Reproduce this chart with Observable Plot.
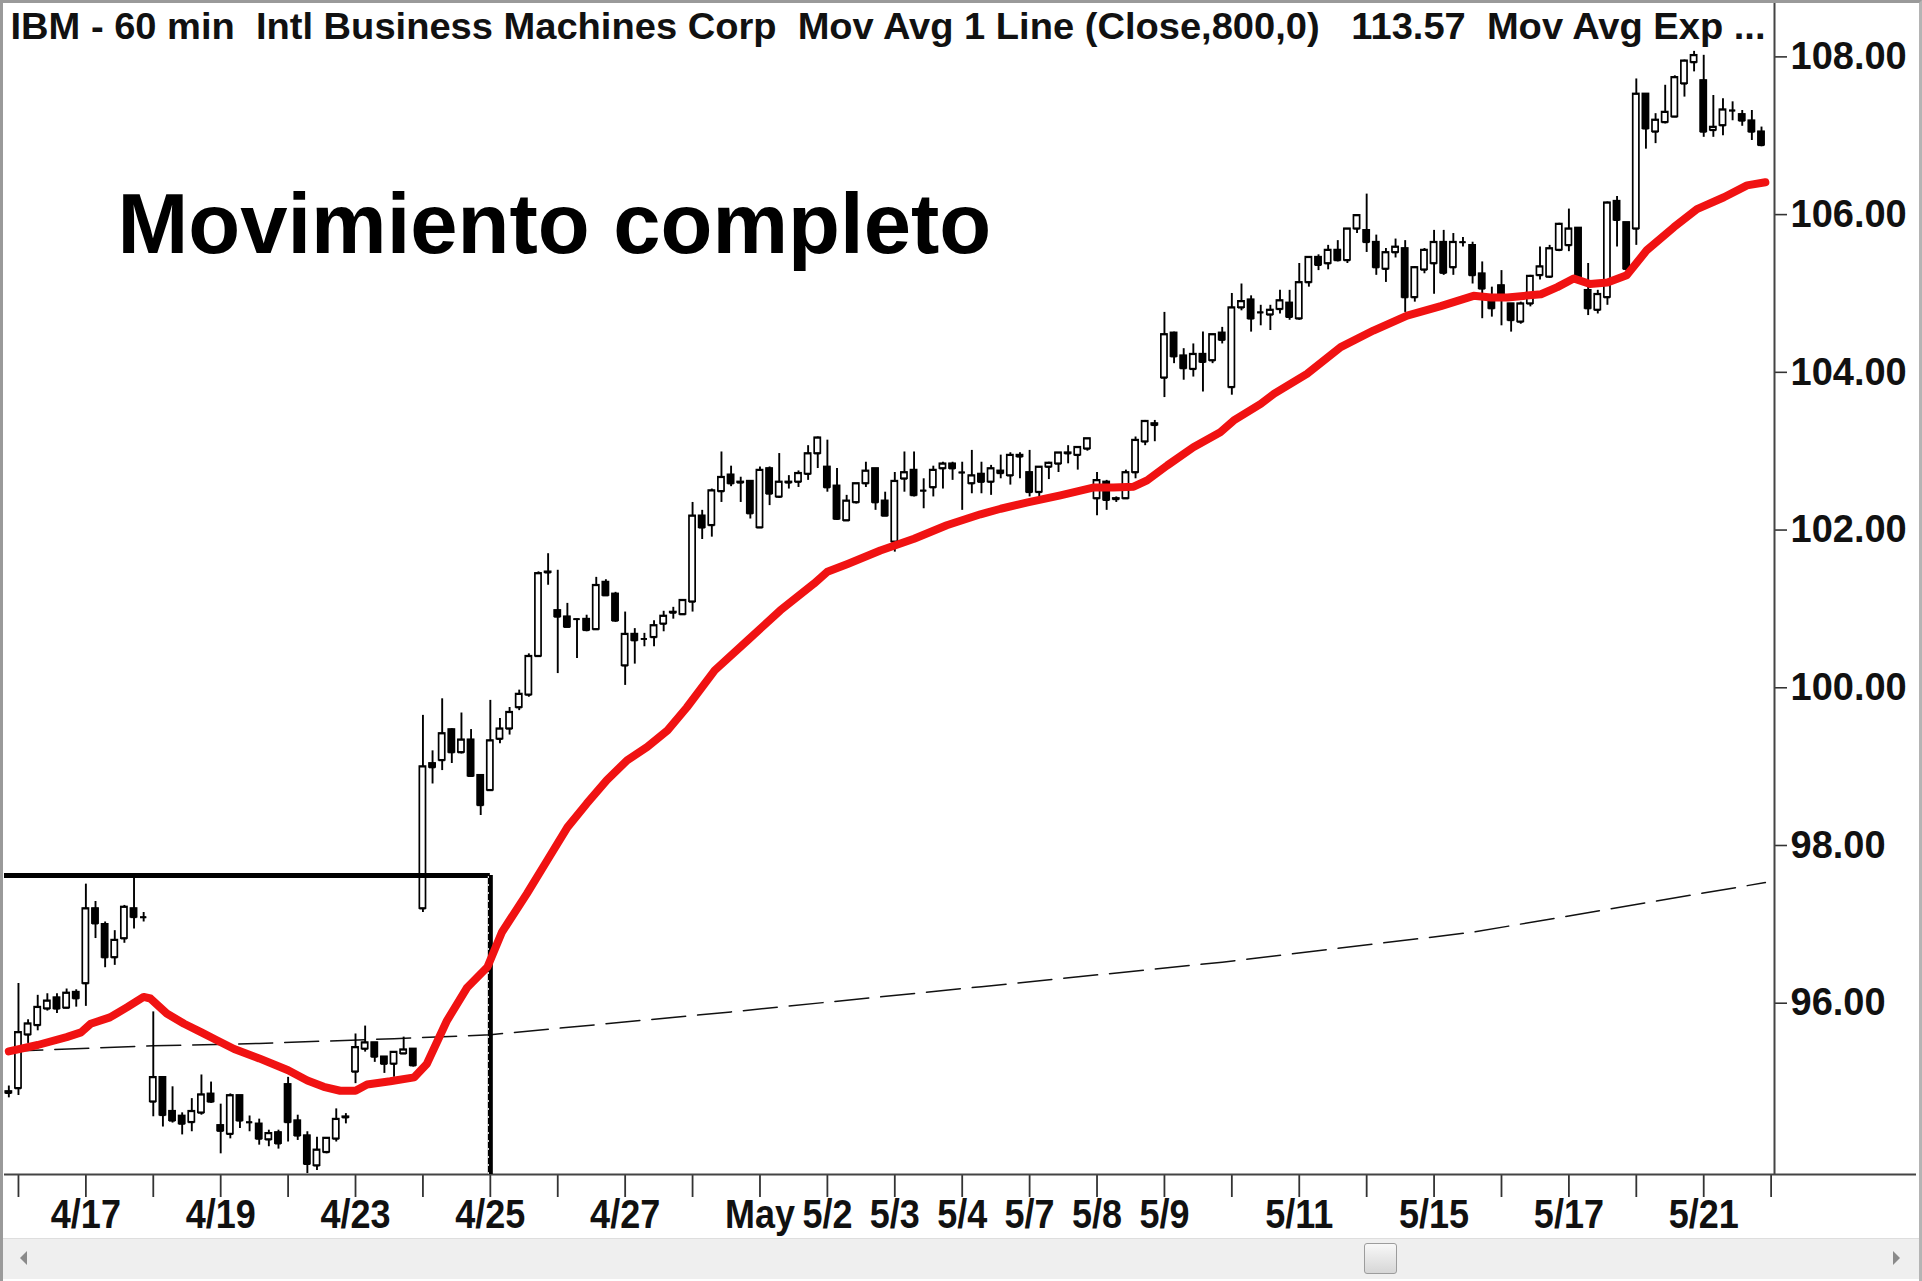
<!DOCTYPE html>
<html>
<head>
<meta charset="utf-8">
<script src="https://cdn.jsdelivr.net/npm/d3@7"></script>
<script src="https://cdn.jsdelivr.net/npm/@observablehq/plot@0.6"></script>
<style>
  html, body { margin: 0; padding: 0; background: #fff; }
  #wrap { position: relative; width: 1922px; height: 1281px; overflow: hidden; background: #fff; }
  #chart { position: absolute; left: 0; top: 0; }
  #frame { position: absolute; left: 0; top: 0; width: 1922px; height: 1281px; box-sizing: border-box;
           border-top: 3px solid #9a9a9a; border-left: 3px solid #9a9a9a; border-right: 3px solid #b4b4b4; pointer-events: none; }
  #scroll { position: absolute; left: 3px; top: 1238px; width: 1916px; height: 40px; background: #efefef; border-top: 1px solid #dedede; }
  #scroll .arr { position: absolute; top: 12px; width: 0; height: 0; border-top: 7px solid transparent; border-bottom: 7px solid transparent; }
  #scroll .l { left: 17px; border-right: 7px solid #8a8a8a; }
  #scroll .r { left: 1890px; border-left: 7px solid #8a8a8a; }
  #scroll .thumb { position: absolute; left: 1361px; top: 4px; width: 33px; height: 31px; box-sizing: border-box;
                   border: 1px solid #9c9c9c; border-radius: 3px; background: linear-gradient(#f8f8f8, #d6d6d6); }
</style>
</head>
<body>
<div id="wrap">
  <div id="chart"></div>
  <div id="scroll"><div class="arr l"></div><div class="arr r"></div><div class="thumb"></div></div>
  <div id="frame"></div>
</div>
<script>
// ---------------- data (60-min bars, index 0 = last bar of 4/13) ----------------
const opens = [
  94.88, 94.92, 95.60, 95.72, 95.93, 96.07, 95.94, 96.14,
  96.25, 97.20, 97.00, 96.58, 96.82, 97.20, 97.09,
  94.75, 95.06, 94.63, 94.57, 94.49, 94.61, 94.85,
  94.45, 94.34, 94.83, 94.49, 94.47, 94.27, 94.36,
  94.97, 94.51, 94.32, 93.94, 94.11, 94.28, 94.55,
  95.13, 95.42, 95.50, 95.32, 95.23, 95.36, 95.42,
  97.20, 99.04, 99.08, 99.47, 99.18, 99.34, 98.89,
  98.70, 99.35, 99.48, 99.75, 99.91, 100.40, 101.46,
  100.98, 100.90, 100.87, 100.87, 100.74, 101.34, 101.19,
  100.28, 100.68, 100.62, 100.64, 100.81, 100.95, 100.93,
  101.09, 102.18, 102.06, 102.49, 102.70, 102.61, 102.62,
  102.03, 102.78, 102.42, 102.60, 102.61, 102.71, 102.97,
  102.80, 102.56, 102.12, 102.35, 102.59, 102.78, 102.37,
  101.85, 102.65, 102.76, 102.50, 102.54, 102.78, 102.84,
  102.73, 102.59, 102.71, 102.61, 102.75, 102.69, 102.95,
  102.73, 102.48, 102.80, 102.84, 102.97, 102.95, 103.03,
  102.40, 102.61, 102.40, 102.40, 102.73, 103.12, 103.35,
  103.93, 104.50, 104.21, 104.04, 104.23, 104.15, 104.50,
  103.81, 104.82, 104.92, 104.76, 104.73, 104.80, 104.88,
  104.68, 105.14, 105.46, 105.38, 105.55, 105.42, 105.82,
  105.80, 105.65, 105.31, 105.52, 105.57, 104.95, 105.30,
  105.38, 105.65, 105.33, 105.65, 105.61, 105.25, 104.89,
  105.10, 104.87, 104.64, 104.87, 105.23, 105.21, 105.55,
  105.61, 105.83, 105.04, 104.79, 104.95, 106.17, 105.90,
  105.82, 107.53, 107.05, 107.17, 107.24, 107.66, 107.93,
  107.70, 107.07, 107.13, 107.32, 107.27, 107.19, 107.05
];
const highs = [
  94.95, 96.25, 95.79, 96.10, 96.12, 96.12, 96.18, 96.17,
  97.51, 97.29, 97.03, 96.92, 97.24, 97.60, 97.15,
  95.89, 95.06, 94.94, 94.61, 94.79, 95.09, 95.00,
  94.72, 94.85, 94.83, 94.57, 94.53, 94.39, 94.39,
  95.06, 94.58, 94.37, 94.30, 94.29, 94.66, 94.60,
  95.61, 95.71, 95.50, 95.32, 95.38, 95.57, 95.42,
  99.65, 99.20, 99.86, 99.48, 99.68, 99.47, 98.89,
  99.84, 99.61, 99.75, 99.97, 100.43, 101.47, 101.70,
  101.49, 101.07, 100.87, 100.92, 101.40, 101.37, 101.21,
  100.96, 100.75, 100.69, 100.85, 100.97, 101.02, 101.11,
  102.35, 102.25, 102.52, 102.99, 102.81, 102.67, 102.62,
  102.80, 102.80, 102.97, 102.69, 102.75, 103.07, 103.18,
  103.14, 102.78, 102.44, 102.59, 102.86, 102.78, 102.48,
  102.73, 102.99, 102.99, 102.65, 102.81, 102.86, 102.86,
  102.86, 103.01, 102.86, 102.82, 102.95, 102.98, 102.98,
  103.01, 102.80, 102.86, 102.98, 103.07, 103.05, 103.16,
  102.73, 102.63, 102.42, 102.76, 103.18, 103.39, 103.39,
  104.76, 104.51, 104.30, 104.36, 104.51, 104.48, 104.57,
  105.00, 105.12, 104.97, 104.85, 104.85, 105.04, 105.04,
  105.38, 105.46, 105.49, 105.61, 105.67, 105.82, 105.99,
  106.26, 105.74, 105.57, 105.69, 105.67, 105.34, 105.57,
  105.80, 105.80, 105.76, 105.71, 105.65, 105.40, 105.08,
  105.29, 104.87, 104.89, 105.23, 105.59, 105.61, 105.89,
  106.07, 105.83, 105.38, 105.04, 106.16, 106.23, 105.90,
  107.72, 107.53, 107.28, 107.64, 107.76, 107.96, 108.07,
  108.02, 107.51, 107.47, 107.43, 107.32, 107.32, 107.11
];
const lows = [
  94.80, 94.83, 95.49, 95.65, 95.90, 95.87, 95.93, 95.95,
  95.96, 96.82, 96.45, 96.48, 96.76, 96.94, 97.03,
  94.56, 94.43, 94.48, 94.33, 94.37, 94.58, 94.73,
  94.09, 94.28, 94.41, 94.37, 94.20, 94.18, 94.15,
  94.24, 94.26, 93.84, 93.88, 94.09, 94.24, 94.47,
  94.98, 95.38, 95.25, 95.11, 95.06, 95.35, 95.19,
  97.15, 98.78, 98.95, 99.04, 99.16, 98.87, 98.38,
  98.70, 99.29, 99.40, 99.71, 99.88, 100.39, 101.30,
  100.18, 100.77, 100.37, 100.71, 100.73, 101.17, 100.83,
  100.03, 100.30, 100.52, 100.52, 100.71, 100.87, 100.92,
  100.96, 101.88, 101.91, 102.35, 102.55, 102.35, 102.14,
  102.03, 102.31, 102.40, 102.52, 102.54, 102.63, 102.78,
  102.48, 102.12, 102.12, 102.33, 102.54, 102.25, 102.18,
  101.72, 102.48, 102.42, 102.27, 102.42, 102.52, 102.63,
  102.25, 102.46, 102.46, 102.44, 102.65, 102.57, 102.65,
  102.42, 102.42, 102.64, 102.73, 102.84, 102.76, 103.00,
  102.18, 102.25, 102.35, 102.40, 102.65, 103.07, 103.12,
  103.68, 104.11, 103.90, 103.94, 103.75, 104.11, 104.36,
  103.71, 104.78, 104.51, 104.59, 104.53, 104.74, 104.66,
  104.66, 105.08, 105.29, 105.30, 105.40, 105.38, 105.76,
  105.52, 105.23, 105.14, 105.45, 104.76, 104.89, 105.25,
  104.99, 105.23, 105.23, 105.59, 105.12, 104.68, 104.70,
  104.59, 104.51, 104.61, 104.83, 105.17, 105.19, 105.53,
  105.53, 105.17, 104.72, 104.74, 104.85, 105.59, 105.27,
  105.61, 106.83, 106.90, 107.15, 107.23, 107.49, 107.81,
  106.98, 106.98, 107.00, 107.19, 107.12, 106.94, 106.86
];
const closes = [
  94.86, 95.63, 95.74, 95.95, 96.03, 95.93, 96.13, 96.06,
  97.20, 97.01, 96.58, 96.80, 97.22, 97.09, 97.09,
  95.06, 94.58, 94.51, 94.47, 94.63, 94.84, 94.75,
  94.38, 94.83, 94.51, 94.49, 94.28, 94.35, 94.22,
  94.49, 94.32, 93.96, 94.14, 94.29, 94.53, 94.56,
  95.44, 95.50, 95.32, 95.23, 95.38, 95.41, 95.21,
  99.00, 98.99, 99.42, 99.18, 99.34, 98.88, 98.51,
  99.33, 99.48, 99.69, 99.92, 100.40, 101.45, 101.47,
  100.90, 100.77, 100.87, 100.73, 101.30, 101.17, 100.85,
  100.68, 100.60, 100.62, 100.79, 100.91, 100.96, 101.11,
  102.18, 102.03, 102.50, 102.67, 102.59, 102.60, 102.21,
  102.76, 102.46, 102.61, 102.61, 102.72, 102.97, 103.17,
  102.54, 102.14, 102.37, 102.59, 102.75, 102.35, 102.18,
  102.62, 102.73, 102.44, 102.50, 102.76, 102.84, 102.78,
  102.73, 102.69, 102.61, 102.78, 102.72, 102.95, 102.93,
  102.48, 102.80, 102.85, 102.98, 102.98, 103.05, 103.16,
  102.63, 102.38, 102.39, 102.73, 103.14, 103.38, 103.33,
  104.48, 104.20, 104.05, 104.23, 104.13, 104.48, 104.41,
  104.82, 104.90, 104.68, 104.76, 104.79, 104.91, 104.70,
  105.14, 105.46, 105.36, 105.55, 105.42, 105.82, 105.99,
  105.65, 105.33, 105.52, 105.59, 104.95, 105.33, 105.55,
  105.65, 105.26, 105.65, 105.65, 105.23, 105.06, 104.81,
  104.99, 104.66, 104.87, 105.22, 105.34, 105.57, 105.88,
  105.82, 105.19, 104.81, 104.99, 106.15, 105.93, 105.31,
  107.53, 107.09, 107.20, 107.30, 107.74, 107.95, 108.02,
  107.05, 107.11, 107.33, 107.32, 107.19, 107.05, 106.88
];

// trading days: first bar of each day, 7 hourly bars per day
const dayLabels = ["", "4/17", "", "4/19", "", "4/23", "", "4/25", "", "4/27", "", "May", "5/2", "5/3", "5/4",
                   "5/7", "5/8", "5/9", "", "5/11", "", "5/15", "", "5/17", "", "5/21", ""];
const barsPerDay = 7;
const firstDayBar = 1;

// exponential moving average (red line)
const emaBar = [0, 3, 6, 7.5, 8.5, 10.5, 12.3, 14, 14.7, 16.4, 18.2, 20, 21.6, 23.4, 26, 29, 31, 32.7, 34.4, 36,
                37.2, 39.6, 42.1, 43.4, 45.5, 47.6, 49.7, 51.2, 53.8, 55.9, 58, 60, 62.1, 64.2, 66.3, 68.4, 70.4,
                73.3, 76.7, 80.1, 83.6, 85, 87.1, 90.5, 94, 97.4, 100.9, 103, 105.8, 109.2, 112.7, 114.7, 116.8,
                118.2, 120.3, 123, 125.8, 127.2, 130, 131.4, 134.8, 138.3, 141.7, 145.2, 148.7, 152.1, 153.9,
                155.6, 159.1, 160.8, 162.5, 164.2, 166, 168, 170.1, 172.9, 175.3, 178.1, 180.5, 182.4];
const emaVal = [95.39, 95.47, 95.57, 95.63, 95.74, 95.82, 95.95, 96.08, 96.06, 95.87, 95.74, 95.63, 95.53, 95.42,
                95.30, 95.15, 95.02, 94.94, 94.89, 94.89, 94.97, 95.01, 95.06, 95.23, 95.78, 96.20, 96.46, 96.90,
                97.39, 97.81, 98.23, 98.53, 98.83, 99.08, 99.25, 99.46, 99.75, 100.22, 100.60, 100.98, 101.32,
                101.47, 101.57, 101.74, 101.89, 102.06, 102.20, 102.27, 102.35, 102.44, 102.54, 102.54, 102.55,
                102.63, 102.82, 103.05, 103.24, 103.39, 103.60, 103.73, 103.98, 104.32, 104.53, 104.72, 104.84,
                104.97, 104.95, 104.95, 104.99, 105.08, 105.19, 105.12, 105.14, 105.23, 105.55, 105.84, 106.07,
                106.22, 106.37, 106.41];

// 800-bar simple moving average (dashed line)
const smaBar = [0, 15, 26, 40, 50, 75, 101, 126, 152, 182.4];
const smaVal = [95.39, 95.46, 95.49, 95.55, 95.60, 95.89, 96.21, 96.52, 96.90, 97.53];

const yTicks = [96, 98, 100, 102, 104, 106, 108];
const boxTop = 97.62;      // top of the consolidation box
const boxEndBar = 50;      // 4/25 first bar
const headerText = "IBM - 60 min  Intl Business Machines Corp  Mov Avg 1 Line (Close,800,0)   113.57  Mov Avg Exp ...";
const annotation = "Movimiento completo";

// ---------------- build ----------------
const W = 1922, H = 1236;
const mL = 4, mR = 148, mT = 0, mB = 62;
const xDomain = [-0.45, 183.35];
const yDomain = [93.828, 108.715];
const pxPerBar = (W - mL - mR) / (xDomain[1] - xDomain[0]);
const axisLineEnd = xDomain[1] + (W - 6 - (W - mR)) / pxPerBar;

const bars = opens.map((o, i) => ({i, open: o, high: highs[i], low: lows[i], close: closes[i]}));
const up = bars.filter(d => d.close >= d.open);
const down = bars.filter(d => d.close < d.open);
const ema = emaBar.map((b, k) => ({b, v: emaVal[k]}));
const sma = smaBar.map((b, k) => ({b, v: smaVal[k]}));
const dayTicks = dayLabels.map((_, k) => firstDayBar + barsPerDay * k);
const half = 0.32;
const font = "'Liberation Sans', Arial, sans-serif";

const chart = Plot.plot({
  width: W, height: H,
  marginLeft: mL, marginRight: mR, marginTop: mT, marginBottom: mB,
  x: {type: "linear", domain: xDomain},
  y: {type: "linear", domain: yDomain},
  style: {fontFamily: font, background: "transparent", overflow: "visible"},
  marks: [
    // axes
    Plot.axisY({anchor: "right", ticks: yTicks, tickFormat: d => d.toFixed(2), tickSize: 12, tickPadding: 4,
                fontSize: 38, fontWeight: "bold", stroke: "#333", strokeWidth: 1.6, fill: "#111"}),
    Plot.axisX({anchor: "bottom", ticks: dayTicks, tickFormat: (d, k) => dayLabels[k], tickSize: 23, tickPadding: 2,
                fontSize: 40, fontWeight: "bold", stroke: "#333", strokeWidth: 1.8, fill: "#111"}),
    Plot.ruleY([yDomain[0]], {x1: xDomain[0], x2: axisLineEnd, stroke: "#444", strokeWidth: 2}),
    Plot.ruleX([xDomain[1]], {stroke: "#444", strokeWidth: 2}),
    // dashed 800-bar moving average
    Plot.line(sma, {x: "b", y: "v", stroke: "#111", strokeWidth: 1.5, strokeDasharray: "34,12"}),
    // candles
    Plot.ruleX(bars, {x: "i", y1: "low", y2: "high", stroke: "#000", strokeWidth: 1.9}),
    Plot.rect(up, {x1: d => d.i - half, x2: d => d.i + half, y1: "open", y2: "close", fill: "#fff", stroke: "#000", strokeWidth: 1.7}),
    Plot.rect(down, {x1: d => d.i - half, x2: d => d.i + half, y1: "close", y2: "open", fill: "#000", stroke: "#000", strokeWidth: 1.7}),
    Plot.ruleY(bars, {y: "open", x1: d => d.i - half, x2: d => d.i + half, stroke: "#000", strokeWidth: 1.8}),
    Plot.ruleY(bars, {y: "close", x1: d => d.i - half, x2: d => d.i + half, stroke: "#000", strokeWidth: 1.8}),
    // consolidation box
    Plot.ruleY([boxTop], {x1: xDomain[0], x2: boxEndBar, stroke: "#000", strokeWidth: 5}),
    Plot.ruleX([boxEndBar], {y1: yDomain[0], y2: boxTop, stroke: "#000", strokeWidth: 5}),
    Plot.ruleX([boxEndBar], {y1: yDomain[0], y2: boxTop, stroke: "#fff", strokeWidth: 1, strokeDasharray: "2,6", dx: -2}),
    // exponential moving average
    Plot.line(ema, {x: "b", y: "v", stroke: "#f01212", strokeWidth: 8, strokeLinejoin: "round", strokeLinecap: "round"}),
    // texts
    Plot.text([headerText], {frameAnchor: "top-left", dx: 6, dy: 12, textAnchor: "start", lineAnchor: "top",
                             fontSize: 37, fontWeight: "bold", fill: "#111", className: "hdr"}),
    Plot.text([annotation], {frameAnchor: "top-left", dx: 113, dy: 192, textAnchor: "start", lineAnchor: "top",
                             fontSize: 85, fontWeight: "bold", fill: "#000"})
  ]
});

document.getElementById("chart").appendChild(chart);

// header: preserve spaces and fit its width
d3.select(chart).selectAll(".hdr text").each(function() {
  this.style.whiteSpace = "pre";
  this.setAttribute("xml:space", "preserve");
  this.setAttribute("textLength", 1755);
  this.setAttribute("lengthAdjust", "spacingAndGlyphs");
});
// x tick labels are slightly condensed in the original
d3.select(chart).selectAll('g[aria-label="x-axis tick label"] text').each(function() {
  const w = this.getComputedTextLength();
  if (w > 0) {
    this.setAttribute("textLength", (w * 0.9).toFixed(1));
    this.setAttribute("lengthAdjust", "spacingAndGlyphs");
  }
});
</script>
</body>
</html>
